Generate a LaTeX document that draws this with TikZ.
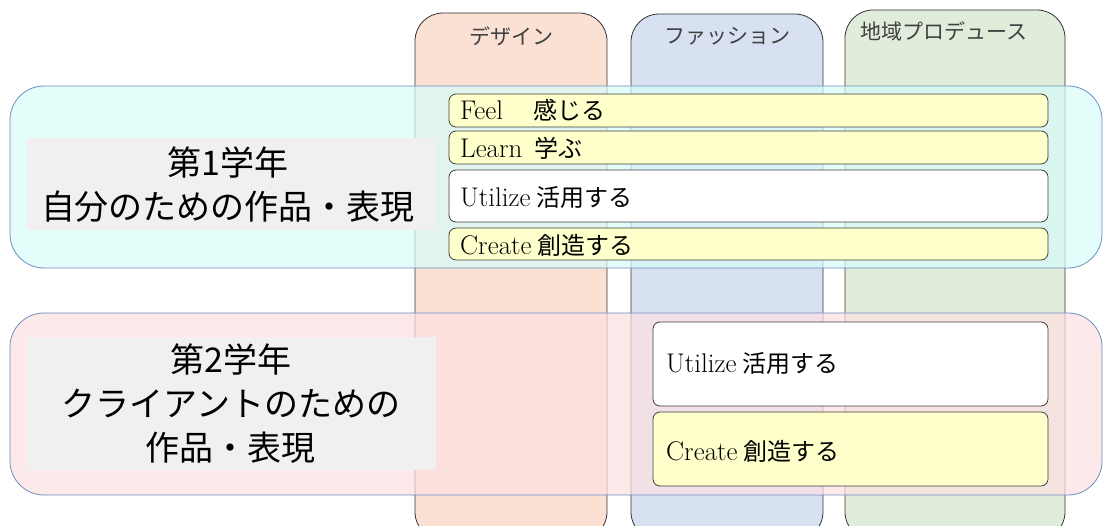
\documentclass[tikz,border=0pt]{standalone}
\usepackage{fontspec}
\newfontfamily\jpf{Noto Sans CJK JP}
\newcommand{\jp}[1]{{\jpf\fontsize{24}{27}\selectfont #1}}
\definecolor{colA}{HTML}{FBE0D4}
\definecolor{colB}{HTML}{D8E1F1}
\definecolor{colC}{HTML}{E0EDDA}
\definecolor{bandA}{HTML}{D8FCF8}
\definecolor{bandB}{HTML}{FCE0E2}
\definecolor{bandline}{HTML}{6C8EBF}
\definecolor{barY}{HTML}{FFFFCC}
\definecolor{lab}{HTML}{F0F0F0}
\tikzset{
  column/.style={draw=black!80, line width=0.8pt, rounded corners=28pt},
  band/.style={draw=bandline, line width=0.8pt, rounded corners=34pt, fill opacity=0.72},
  bar/.style={draw=black!75, line width=0.8pt, rounded corners=7pt},
  bartext/.style={anchor=west, inner sep=0pt, font=\fontsize{27}{30}\selectfont},
  coltext/.style={font=\jpf\fontsize{21}{24}\selectfont, text=black!75},
  bigtext/.style={font=\jpf\fontsize{34}{44}\selectfont, align=center}
}
\begin{document}
\begin{tikzpicture}[x=1pt,y=-1pt]
\useasboundingbox (0,0) rectangle (1104,526);
\clip (0,0) rectangle (1104,526);
% columns
\draw[column, fill=colA] (415,13) rectangle (607,540);
\draw[column, fill=colB] (631,14) rectangle (823,540);
\draw[column, fill=colC] (845,10) rectangle (1065,540);
\node[coltext] (c1) at (511,36) {デザイン};
\node[coltext] (c2) at (727,36) {ファッション};
\node[coltext] (c3) at (944,31) {地域プロデュース};
% bands
\draw[band, fill=bandA] (10,86) rectangle (1102,268);
\draw[band, fill=bandB] (10,313) rectangle (1102,495);
% labels
\fill[lab] (27,138) rectangle (436,230);
\node[bigtext] (y1) at (228,185) {第1学年\\自分のための作品・表現};
\fill[lab] (27,337) rectangle (436,470);
\node[bigtext] (y2) at (231,404) {第2学年\\クライアントのための\\作品・表現};
% year 1 bars
\draw[bar, fill=barY] (449,94) rectangle (1048,127);
\node[bartext] (f1) at (460,110) {Feel\hspace{30pt}\jp{感じる}};
\draw[bar, fill=barY] (449,131) rectangle (1048,164);
\node[bartext] (l1) at (460,148) {Learn\hspace{12pt}\jp{学ぶ}};
\draw[bar, fill=white] (449,170) rectangle (1048,222);
\node[bartext] (u1) at (460,197) {Utilize\hspace{6pt}\jp{活用する}};
\draw[bar, fill=barY] (449,228) rectangle (1048,260);
\node[bartext] (r1) at (460,245) {Create\hspace{6pt}\jp{創造する}};
% year 2 bars
\draw[bar, fill=white] (653,322) rectangle (1048,406);
\node[bartext] (u2) at (666,363) {Utilize\hspace{6pt}\jp{活用する}};
\draw[bar, fill=barY] (653,412) rectangle (1048,486);
\node[bartext] (r2) at (666,451) {Create\hspace{6pt}\jp{創造する}};
\end{tikzpicture}
\end{document}
